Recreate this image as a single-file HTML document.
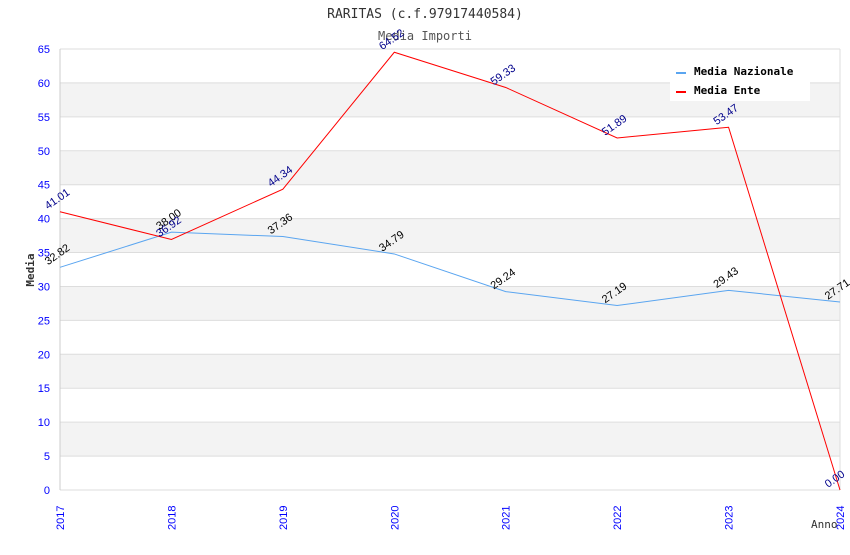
<!DOCTYPE html>
<html><head><meta charset="utf-8"><style>
body{margin:0;background:#fff}
svg text{font-family:"Liberation Sans",sans-serif}
svg text.mono{font-family:"DejaVu Sans Mono","Liberation Mono",monospace}
</style></head><body>
<svg id="chart" width="850" height="550" xmlns="http://www.w3.org/2000/svg">
<text class="mono" x="425" y="18" text-anchor="middle" font-size="13" fill="#333">RARITAS (c.f.97917440584)</text>
<text class="mono" x="425" y="40" text-anchor="middle" font-size="12" fill="#555">Media Importi</text>
<g id="bands"></g>
<g id="grid"></g>
<g id="axes"></g>
<g id="series"></g>
<text class="mono" transform="translate(34,270) rotate(-90)" text-anchor="middle" font-size="11" font-weight="bold" fill="#333">Media</text>
<text class="mono" x="811" y="528" font-size="11" fill="#333">Anno</text>
<g>
<rect x="670" y="58" width="140" height="43" fill="#fff"/>
<rect x="676" y="72" width="10" height="2" fill="#5aa5f0"/>
<text class="mono" x="694" y="75" font-size="11" font-weight="bold" fill="#000">Media Nazionale</text>
<rect x="676" y="91" width="10" height="2" fill="#ff0000"/>
<text class="mono" x="694" y="94" font-size="11" font-weight="bold" fill="#000">Media Ente</text>
</g>
</svg>
<script>
const years=["2017","2018","2019","2020","2021","2022","2023","2024"];
const nazionale=[32.82,38.00,37.36,34.79,29.24,27.19,29.43,27.71];
const ente=[41.01,36.92,44.34,64.52,59.33,51.89,53.47,0.00];
const yTicks=[0,5,10,15,20,25,30,35,40,45,50,55,60,65];
const NS="http://www.w3.org/2000/svg";
const L=60,R=840,T=49,B=490,YMAX=65;
const xs=i=>L+(R-L)*i/(years.length-1);
const ys=v=>B-(B-T)*v/YMAX;
function mk(tag,attrs,parent){const e=document.createElementNS(NS,tag);for(const k in attrs)e.setAttribute(k,attrs[k]);parent.appendChild(e);return e;}
const bands=document.getElementById('bands'),grid=document.getElementById('grid'),axes=document.getElementById('axes'),series=document.getElementById('series');
for(let i=0;i<yTicks.length-1;i++){
  if(i%2===1){const r=mk('rect',{x:L,y:ys(yTicks[i+1]),width:R-L,height:ys(yTicks[i])-ys(yTicks[i+1]),fill:'#f3f3f3'},bands);
  
  }
}
yTicks.forEach(v=>{
  const l=mk('line',{x1:L,x2:R,y1:ys(v),y2:ys(v),stroke:'#ddd','stroke-width':1},grid);
  
  
  const t=mk('text',{x:L-10,y:ys(v)+4,'text-anchor':'end','font-size':11,fill:'#0000ff'},axes);
  t.textContent=v;
  
  
});
mk('line',{x1:L,x2:L,y1:T,y2:B,stroke:'#ccc'},axes);
mk('line',{x1:R,x2:R,y1:T,y2:B,stroke:'#ddd'},axes);
years.forEach((y,i)=>{
  const t=mk('text',{transform:`translate(${xs(i)+4},${B+40}) rotate(-90)`,'font-size':11,fill:'#0000ff'},axes);
  t.textContent=y;
  
  
});
function drawSeries(data,color,labelColor,name){
  const p=mk('polyline',{points:data.map((v,i)=>xs(i)+','+ys(v)).join(' '),fill:'none',stroke:color,'stroke-width':1},series);
  
  
  data.forEach((v,i)=>{
    const t=mk('text',{transform:`translate(${xs(i)-12},${ys(v)-2}) rotate(-35)`,'font-size':11,fill:labelColor},series);
    t.textContent=v.toFixed(2);
    
    
  });
}
drawSeries(nazionale,'#5aa5f0','#000','nazionale');
drawSeries(ente,'#ff0000','#00008b','ente');
</script>
</body></html>
